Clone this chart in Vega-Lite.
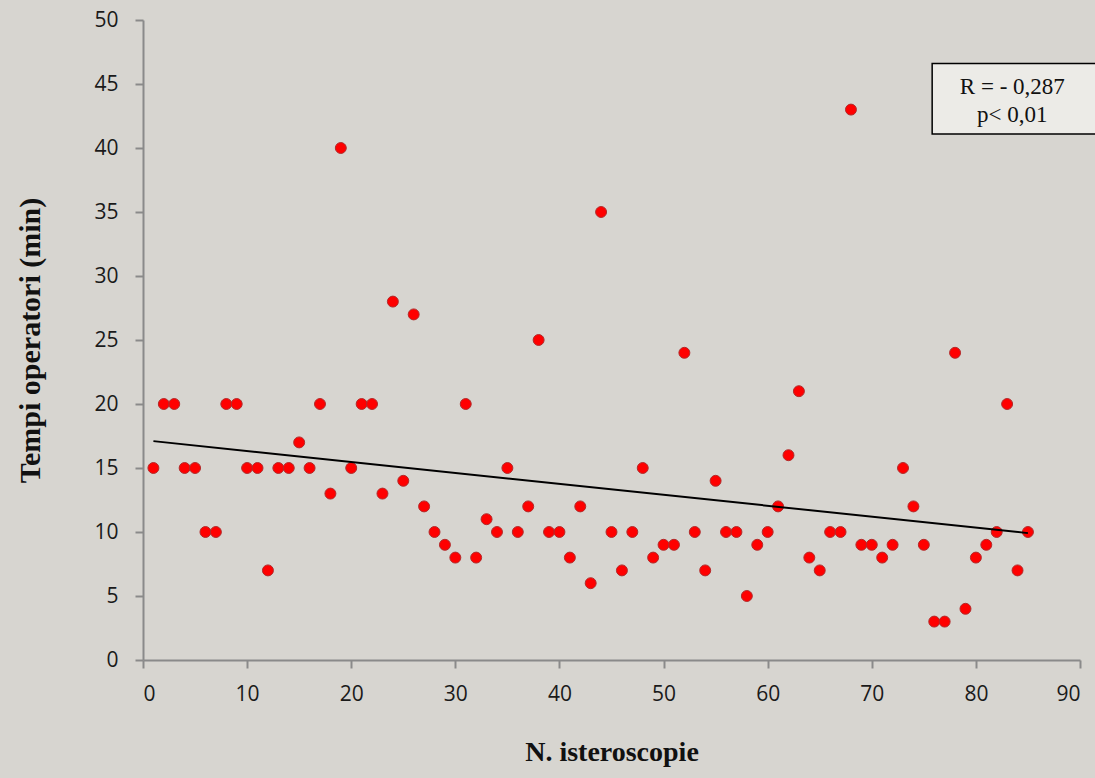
{
  "$schema": "https://vega.github.io/schema/vega-lite/v6.json",
  "width": 937,
  "height": 640,
  "autosize": {"type": "none"},
  "padding": {"left": 143, "top": 20, "right": 15, "bottom": 118},
  "background": "#d7d5d0",
  "config": {"view": {"stroke": null}},
  "datasets": {
    "pts": [
      {"n": 1, "t": 15}, {"n": 2, "t": 20}, {"n": 3, "t": 20}, {"n": 4, "t": 15}, {"n": 5, "t": 15},
      {"n": 6, "t": 10}, {"n": 7, "t": 10}, {"n": 8, "t": 20}, {"n": 9, "t": 20}, {"n": 10, "t": 15},
      {"n": 11, "t": 15}, {"n": 12, "t": 7}, {"n": 13, "t": 15}, {"n": 14, "t": 15}, {"n": 15, "t": 17},
      {"n": 16, "t": 15}, {"n": 17, "t": 20}, {"n": 18, "t": 13}, {"n": 19, "t": 40}, {"n": 20, "t": 15},
      {"n": 21, "t": 20}, {"n": 22, "t": 20}, {"n": 23, "t": 13}, {"n": 24, "t": 28}, {"n": 25, "t": 14},
      {"n": 26, "t": 27}, {"n": 27, "t": 12}, {"n": 28, "t": 10}, {"n": 29, "t": 9}, {"n": 30, "t": 8},
      {"n": 31, "t": 20}, {"n": 32, "t": 8}, {"n": 33, "t": 11}, {"n": 34, "t": 10}, {"n": 35, "t": 15},
      {"n": 36, "t": 10}, {"n": 37, "t": 12}, {"n": 38, "t": 25}, {"n": 39, "t": 10}, {"n": 40, "t": 10},
      {"n": 41, "t": 8}, {"n": 42, "t": 12}, {"n": 43, "t": 6}, {"n": 44, "t": 35}, {"n": 45, "t": 10},
      {"n": 46, "t": 7}, {"n": 47, "t": 10}, {"n": 48, "t": 15}, {"n": 49, "t": 8}, {"n": 50, "t": 9},
      {"n": 51, "t": 9}, {"n": 52, "t": 24}, {"n": 53, "t": 10}, {"n": 54, "t": 7}, {"n": 55, "t": 14},
      {"n": 56, "t": 10}, {"n": 57, "t": 10}, {"n": 58, "t": 5}, {"n": 59, "t": 9}, {"n": 60, "t": 10},
      {"n": 61, "t": 12}, {"n": 62, "t": 16}, {"n": 63, "t": 21}, {"n": 64, "t": 8}, {"n": 65, "t": 7},
      {"n": 66, "t": 10}, {"n": 67, "t": 10}, {"n": 68, "t": 43}, {"n": 69, "t": 9}, {"n": 70, "t": 9},
      {"n": 71, "t": 8}, {"n": 72, "t": 9}, {"n": 73, "t": 15}, {"n": 74, "t": 12}, {"n": 75, "t": 9},
      {"n": 76, "t": 3}, {"n": 77, "t": 3}, {"n": 78, "t": 24}, {"n": 79, "t": 4}, {"n": 80, "t": 8},
      {"n": 81, "t": 9}, {"n": 82, "t": 10}, {"n": 83, "t": 20}, {"n": 84, "t": 7}, {"n": 85, "t": 10}
    ],
    "box": [{"x1": 75.8, "x2": 91.6, "y1": 41.1, "y2": 46.6}],
    "notes": [
      {"x": 83.5, "y": 44.8, "label": "R = - 0,287"},
      {"x": 83.5, "y": 42.6, "label": "p< 0,01"}
    ]
  },
  "layer": [
    {
      "data": {"name": "pts"},
      "mark": {"type": "point", "filled": true, "fill": "#ff0000", "stroke": "#b22a2a", "strokeWidth": 1, "size": 120, "opacity": 1},
      "encoding": {
        "x": {
          "field": "n", "type": "quantitative",
          "scale": {"domain": [0, 90], "nice": false, "zero": true},
          "axis": {
            "title": "N. isteroscopie", "values": [0, 10, 20, 30, 40, 50, 60, 70, 80, 90],
            "grid": false, "domainColor": "#8a8a8a", "domainWidth": 2, "tickColor": "#8a8a8a", "tickWidth": 2, "tickSize": 8,
            "labelFont": "Open Sans", "labelFontSize": 21, "labelColor": "#1a1a1a", "labelPadding": 15,
            "titleFont": "Liberation Serif", "titleFontSize": 28, "titleFontWeight": "bold", "titleColor": "#111111", "titlePadding": 34
          }
        },
        "y": {
          "field": "t", "type": "quantitative",
          "scale": {"domain": [0, 50], "nice": false},
          "axis": {
            "title": "Tempi operatori (min)", "values": [0, 5, 10, 15, 20, 25, 30, 35, 40, 45, 50],
            "grid": false, "domainColor": "#8a8a8a", "domainWidth": 2, "tickColor": "#8a8a8a", "tickWidth": 2, "tickSize": 8,
            "labelFont": "Open Sans", "labelFontSize": 21, "labelColor": "#1a1a1a", "labelPadding": 17,
            "titleFont": "Liberation Serif", "titleFontSize": 30, "titleFontWeight": "bold", "titleColor": "#111111", "titlePadding": 48
          }
        }
      }
    },
    {
      "data": {"name": "pts"},
      "transform": [{"regression": "t", "on": "n", "extent": [1, 85]}],
      "mark": {"type": "line", "color": "#000000", "strokeWidth": 2},
      "encoding": {
        "x": {"field": "n", "type": "quantitative"},
        "y": {"field": "t", "type": "quantitative"}
      }
    },
    {
      "data": {"name": "box"},
      "mark": {"type": "rect", "fill": "#ecebe7", "stroke": "#000000", "strokeWidth": 1.5, "clip": false},
      "encoding": {
        "x": {"field": "x1", "type": "quantitative"},
        "x2": {"field": "x2"},
        "y": {"field": "y1", "type": "quantitative"},
        "y2": {"field": "y2"}
      }
    },
    {
      "data": {"name": "notes"},
      "mark": {"type": "text", "font": "Liberation Serif", "fontSize": 23, "color": "#111111", "align": "center", "baseline": "middle"},
      "encoding": {
        "x": {"field": "x", "type": "quantitative"},
        "y": {"field": "y", "type": "quantitative"},
        "text": {"field": "label"}
      }
    }
  ]
}
